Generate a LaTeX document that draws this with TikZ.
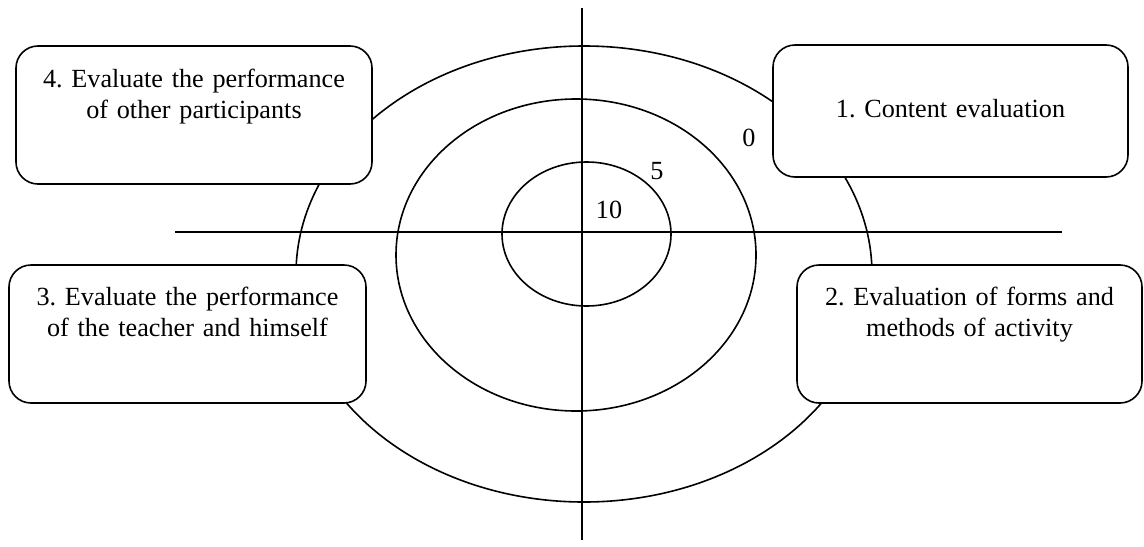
\documentclass[tikz,border=0pt]{standalone}
\usepackage{fontspec}
\setmainfont{Liberation Serif}
\frenchspacing
\usetikzlibrary{positioning}
\tikzstyle{evalbox} = [rectangle, rounded corners=11pt, draw=black, fill=white,
line width=0.8pt, inner sep=0pt, align=center, anchor=base, text height=20pt,
text depth=49pt, font=\fontsize{13.1pt}{15.7pt}\selectfont]
\tikzstyle{score} = [inner sep=0pt, font=\fontsize{13.1pt}{15.7pt}\selectfont]
\tikzstyle{axis} = [line width=0.8pt]
\tikzstyle{ring} = [line width=0.8pt]

\begin{document}
\begin{tikzpicture}[x=0.5pt, y=-0.5pt]
  \useasboundingbox (0,0) rectangle (1144,546);

  % axes
  \coordinate (ytop) at (582,8);
  \coordinate (ybot) at (582,540);
  \coordinate (xleft) at (175,232);
  \coordinate (xright) at (1062,232);
  \draw [axis] (ytop) -- (ybot);
  \draw [axis] (xleft) -- (xright);

  % target rings
  \draw [ring] (584,274) ellipse [x radius=144pt, y radius=114pt];
  \draw [ring] (576,255) ellipse [x radius=90pt, y radius=78pt];
  \draw [ring] (586.5,234) ellipse [x radius=42.25pt, y radius=36pt];

  \node (zero) [score] at (749,138) {0};
  \node (five) [score] at (657,171) {5};
  \node (ten) [score] at (609,210) {10};

  % criteria
  \node (crit1) [evalbox, text width=177.5pt, text height=36pt, text depth=30pt] at (950.5,117) {1. Content evaluation};
  \node (crit2) [evalbox, text width=172.5pt] at (969.5,305) {2. Evaluation of forms and\\methods of activity};
  \node (crit3) [evalbox, text width=178.5pt] at (187.5,305) {3. Evaluate the performance\\of the teacher and himself};
  \node (crit4) [evalbox, text width=178pt, text height=20.5pt, text depth=48.5pt] at (194,87) {4. Evaluate the performance\\of other participants};
\end{tikzpicture}
\end{document}
